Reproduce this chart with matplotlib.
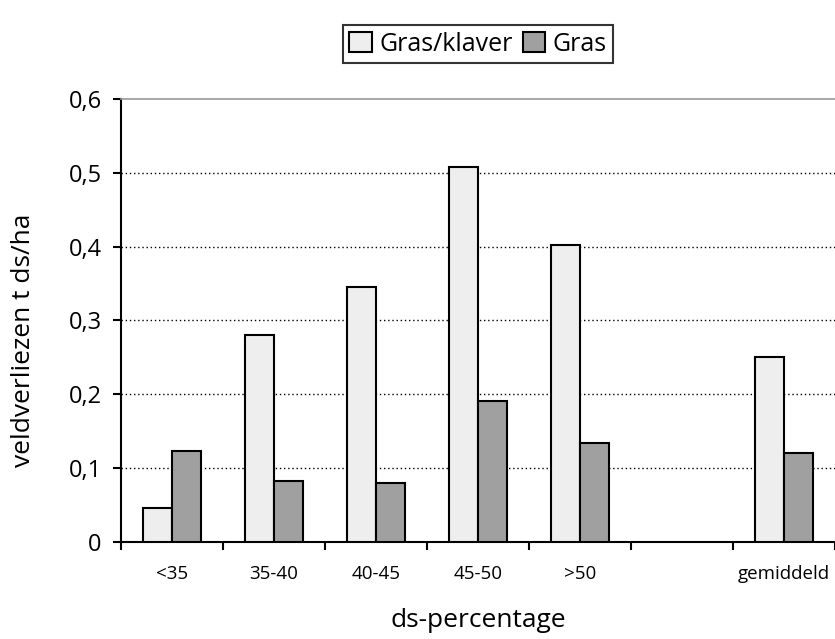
import numpy as np
import matplotlib.pyplot as plt
from matplotlib.ticker import FuncFormatter

categories = ["<35", "35-40", "40-45", "45-50", ">50", "", "gemiddeld"]
gras_klaver = [0.046, 0.280, 0.345, 0.508, 0.402, np.nan, 0.251]
gras = [0.123, 0.083, 0.080, 0.191, 0.134, np.nan, 0.120]

plt.rcParams['font.family'] = ['Open Sans', 'DejaVu Sans']

fig = plt.figure(figsize=(8.35, 6.39), dpi=100)
ax = fig.add_axes([0.145, 0.152, 0.855, 0.693])

x = np.arange(len(categories))
w = 0.285
ax.bar(x - w / 2, gras_klaver, w, color="#eeeeee", edgecolor="black", linewidth=1.5,
       label="Gras/klaver", zorder=3)
ax.bar(x + w / 2, gras, w, color="#a0a0a0", edgecolor="black", linewidth=1.5,
       label="Gras", zorder=3)

ax.set_xlim(-0.5, len(categories) - 0.5)
ax.set_ylim(0, 0.6)
ax.set_yticks(np.arange(0, 0.61, 0.1))
ax.yaxis.set_major_formatter(FuncFormatter(
    lambda v, p: "0" if abs(v) < 1e-9 else f"{v:.1f}".replace(".", ",")))
ax.tick_params(axis="y", labelsize=17, length=6, width=1.5, direction="out", pad=8)

# slot boundaries as ticks, labels in the middle
ax.set_xticks(np.arange(-0.5, len(categories), 1.0))
ax.set_xticklabels([])
ax.set_xticks(x, minor=True)
ax.set_xticklabels(categories, minor=True, fontsize=13.5)
ax.tick_params(axis="x", which="major", length=6, width=1.5, direction="out")
ax.tick_params(axis="x", which="minor", length=0, pad=17)

for yv in [0.1, 0.2, 0.3, 0.4, 0.5]:
    ax.axhline(yv, color="black", linestyle=(0, (1, 2)), linewidth=1, zorder=1)

ax.spines["right"].set_visible(False)
ax.spines["top"].set_color("#999999")
ax.spines["top"].set_linewidth(1.2)
ax.spines["left"].set_linewidth(1.5)
ax.spines["bottom"].set_linewidth(1.5)

ax.set_ylabel("veldverliezen t ds/ha", fontsize=19)
ax.yaxis.set_label_coords(-0.119, 0.455)
ax.set_xlabel("ds-percentage", fontsize=19)
ax.xaxis.set_label_coords(0.5, -0.15)

leg = fig.legend(loc="center", bbox_to_anchor=(0.5725, 0.931), ncol=2, fontsize=18,
                 frameon=True, fancybox=False, edgecolor="black",
                 handlelength=0.9, handleheight=0.9, handletextpad=0.3,
                 columnspacing=0.4, borderpad=0.25)
leg.get_frame().set_linewidth(1.5)

fig.savefig("out.png", dpi=100)
